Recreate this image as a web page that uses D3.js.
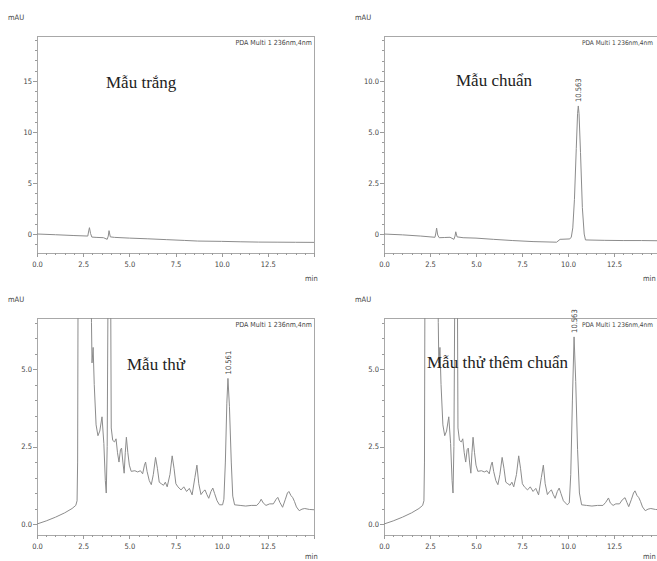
<!DOCTYPE html>
<html>
<head>
<meta charset="utf-8">
<script src="https://cdn.jsdelivr.net/npm/d3@7"></script>
<style>
  body { margin: 0; background: #fff; }
  svg { display: block; }
  .axis path, .axis line { stroke: #9a9a9a; shape-rendering: crispEdges; }
  .axis text { font-family: "DejaVu Sans Condensed", "Liberation Sans Narrow", sans-serif; font-stretch: condensed; font-size: 7.5px; fill: #444; }
  .small { font-family: "DejaVu Sans Condensed", "Liberation Sans Narrow", sans-serif; font-stretch: condensed; font-size: 7.5px; fill: #444; }
  .title { font-family: "Liberation Serif", "Times New Roman", serif; font-size: 17px; fill: #222; }
</style>
</head>
<body>
<svg id="chart" width="657" height="561"></svg>
<script>
// x axis (minutes)
var xTickValues = [0, 2.5, 5, 7.5, 10, 12.5, 15];
var xTickLabels = ["0.0", "2.5", "5.0", "7.5", "10.0", "12.5", ""];

// panel titles
var titles = ["Mẫu trắng", "Mẫu chuẩn", "Mẫu thử", "Mẫu thử thêm chuẩn"];
var detector = "PDA Multi 1 236nm,4nm";

// y ticks for each panel
var yTicksBlank = [0, 5, 10, 15];
var yLabelsBlank = ["0", "5", "10", "15"];
var yTicksStd = [0, 2.5, 5, 7.5];
var yLabelsStd = ["0", "2.5", "5.0", "10.0"];
var yTicksSample = [0, 2.5, 5];
var yLabelsSample = ["0.0", "2.5", "5.0"];

// peak labels
var peakStd = {t: 10.56, v: 6.28, label: "10.563"};
var peakSample = {t: 10.34, v: 4.7, label: "10.561"};
var peakSpiked = {t: 10.33, v: 6.04, label: "10.563"};

// traces (time, mAU)
var timeBlank = [0, 1, 2, 2.75, 2.8, 2.84, 2.9, 2.97, 3.2, 3.6, 3.8, 3.86, 3.9, 3.97, 4.2, 5, 6, 7, 8, 8.7, 10, 11, 12, 13, 14, 15];
var signalBlank = [0, -0.07, -0.15, -0.2, 0.3, 0.62, 0.05, -0.3, -0.33, -0.36, -0.52, -0.2, 0.33, -0.28, -0.33, -0.4, -0.47, -0.55, -0.63, -0.69, -0.72, -0.76, -0.79, -0.8, -0.81, -0.82];

var timeStd = [0, 1, 2, 2.77, 2.82, 2.86, 2.92, 3.0, 3.3, 3.59, 3.8, 3.86, 3.9, 3.97, 4.3, 5, 5.94, 7, 8.1, 9.38, 9.57, 10.1, 10.18, 10.26, 10.35, 10.45, 10.52, 10.56, 10.6, 10.68, 10.78, 10.88, 10.95, 12, 13, 14, 15];
var signalStd = [0, -0.04, -0.1, -0.16, 0.05, 0.29, -0.05, -0.18, -0.17, -0.16, -0.26, -0.1, 0.11, -0.14, -0.18, -0.2, -0.26, -0.32, -0.37, -0.4, -0.26, -0.24, -0.15, 0.3, 1.7, 4.2, 5.9, 6.28, 5.9, 4.0, 1.3, 0.0, -0.29, -0.31, -0.32, -0.32, -0.33];

var timeSample = [0, 0.5, 1.0, 1.5, 1.9, 2.1, 2.17, 2.2, 2.23, 2.9, 2.95, 2.98, 3.04, 3.1, 3.2, 3.3, 3.4, 3.52, 3.62, 3.7, 3.75, 3.8, 3.86, 3.98, 4.02, 4.1, 4.2, 4.28, 4.36, 4.44, 4.52, 4.58, 4.65, 4.72, 4.78, 4.84, 4.92, 5.0, 5.1, 5.3, 5.45, 5.6, 5.72, 5.82, 5.88, 5.96, 6.08, 6.19, 6.3, 6.42, 6.52, 6.62, 6.73, 6.85, 6.95, 7.05, 7.2, 7.32, 7.42, 7.52, 7.63, 7.8, 7.95, 8.1, 8.25, 8.4, 8.55, 8.66, 8.76, 8.88, 9.0, 9.1, 9.2, 9.3, 9.42, 9.52, 9.62, 9.75, 9.88, 10.05, 10.12, 10.2, 10.28, 10.34, 10.42, 10.52, 10.6, 10.7, 11.0, 11.3, 11.6, 11.9, 12.05, 12.14, 12.25, 12.4, 12.6, 12.8, 12.95, 13.04, 13.15, 13.3, 13.45, 13.56, 13.64, 13.75, 13.85, 13.94, 14.05, 14.2, 14.35, 14.5, 14.75, 15];
var signalSample = [0, 0.1, 0.22, 0.36, 0.5, 0.6, 0.75, 2.0, 9, 9, 6.5, 5.2, 5.7, 4.5, 3.2, 2.85, 3.0, 3.46, 2.6, 1.4, 1.0, 2.5, 9, 9, 3.1, 2.7, 2.65, 2.75, 2.3, 2.0, 2.4, 2.45, 2.0, 1.64, 2.3, 2.8, 2.3, 1.9, 1.7, 1.72, 1.68, 1.72, 1.62, 1.9, 2.0, 1.7, 1.4, 1.27, 1.6, 2.15, 1.8, 1.35, 1.3, 1.25, 1.35, 1.2, 1.6, 2.2, 1.8, 1.3, 1.2, 1.1, 1.2, 1.05, 1.15, 0.94, 1.5, 1.9, 1.3, 0.95, 1.05, 1.1, 0.95, 0.83, 1.05, 1.16, 0.98, 0.75, 0.62, 0.62, 0.8, 2.0, 3.9, 4.7, 3.8, 2.0, 0.9, 0.62, 0.6, 0.58, 0.6, 0.6, 0.7, 0.8, 0.68, 0.6, 0.65, 0.65, 0.8, 0.86, 0.7, 0.54, 0.8, 1.0, 1.05, 0.92, 0.85, 0.73, 0.55, 0.43, 0.48, 0.5, 0.47, 0.46];

var timeSpiked = [0, 0.5, 1.0, 1.5, 1.9, 2.1, 2.17, 2.2, 2.23, 2.9, 2.95, 2.98, 3.04, 3.1, 3.2, 3.3, 3.4, 3.52, 3.62, 3.7, 3.75, 3.8, 3.86, 3.98, 4.02, 4.1, 4.2, 4.28, 4.36, 4.44, 4.52, 4.58, 4.65, 4.72, 4.78, 4.84, 4.92, 5.0, 5.1, 5.3, 5.45, 5.6, 5.72, 5.82, 5.88, 5.96, 6.08, 6.19, 6.3, 6.42, 6.52, 6.62, 6.73, 6.85, 6.95, 7.05, 7.2, 7.32, 7.42, 7.52, 7.63, 7.8, 7.95, 8.1, 8.25, 8.4, 8.55, 8.66, 8.76, 8.88, 9.0, 9.1, 9.2, 9.3, 9.42, 9.52, 9.62, 9.75, 9.96, 10.07, 10.15, 10.24, 10.33, 10.42, 10.52, 10.62, 10.74, 11.0, 11.3, 11.6, 11.9, 12.05, 12.2, 12.3, 12.45, 12.6, 12.8, 12.95, 13.1, 13.2, 13.3, 13.45, 13.56, 13.64, 13.75, 13.85, 13.94, 14.05, 14.2, 14.35, 14.5, 14.75, 15];
var signalSpiked = [0, 0.1, 0.22, 0.36, 0.5, 0.6, 0.75, 2.0, 9, 9, 6.5, 5.2, 5.7, 4.5, 3.2, 2.85, 3.0, 3.46, 2.6, 1.4, 1.0, 2.5, 9, 9, 3.1, 2.7, 2.65, 2.75, 2.3, 2.0, 2.4, 2.45, 2.0, 1.64, 2.3, 2.8, 2.3, 1.9, 1.7, 1.72, 1.68, 1.72, 1.62, 1.9, 2.0, 1.7, 1.4, 1.27, 1.6, 2.15, 1.8, 1.35, 1.3, 1.25, 1.35, 1.2, 1.6, 2.2, 1.8, 1.3, 1.2, 1.1, 1.2, 1.05, 1.15, 0.94, 1.5, 1.9, 1.3, 0.95, 1.05, 1.1, 0.95, 0.83, 1.05, 1.16, 0.98, 0.75, 0.62, 0.68, 1.6, 4.0, 6.04, 4.6, 2.4, 1.0, 0.62, 0.6, 0.58, 0.6, 0.6, 0.7, 0.84, 0.68, 0.6, 0.65, 0.65, 0.78, 0.85, 0.7, 0.56, 0.8, 1.0, 1.07, 0.92, 0.85, 0.73, 0.55, 0.43, 0.48, 0.5, 0.47, 0.46];

var svg = d3.select("#chart");

var panels = [
  {left: 37, top: 36, right: 314, bottom: 253, yDomain: [-1.86, 19.4], yTicks: yTicksBlank, yLabels: yLabelsBlank, minorStep: 1,
   time: timeBlank, signal: signalBlank, title: titles[0], titleX: 106, titleY: 88, peak: null},
  {left: 384, top: 36, right: 660, bottom: 253, yDomain: [-0.93, 9.71], yTicks: yTicksStd, yLabels: yLabelsStd, minorStep: 0.5,
   time: timeStd, signal: signalStd, title: titles[1], titleX: 456, titleY: 86, peak: peakStd},
  {left: 37, top: 318, right: 314, bottom: 535, yDomain: [-0.355, 6.65], yTicks: yTicksSample, yLabels: yLabelsSample, minorStep: 0.5,
   time: timeSample, signal: signalSample, title: titles[2], titleX: 127, titleY: 370, peak: peakSample},
  {left: 384, top: 318, right: 660, bottom: 535, yDomain: [-0.355, 6.65], yTicks: yTicksSample, yLabels: yLabelsSample, minorStep: 0.5,
   time: timeSpiked, signal: signalSpiked, title: titles[3], titleX: 427, titleY: 368, peak: peakSpiked}
];

panels.forEach(function(p, i) { drawPanel(p, i) });

function drawPanel(p, i){
  var x = d3.scaleLinear().domain([0, 15]).range([p.left, p.right]);
  var y = d3.scaleLinear().domain(p.yDomain).range([p.bottom, p.top]);

  // frame
  svg.append("rect")
    .attr("x", p.left).attr("y", p.top)
    .attr("width", p.right - p.left).attr("height", p.bottom - p.top)
    .attr("fill", "none").attr("stroke", "#a8a8a8").attr("stroke-width", 1)
    .attr("shape-rendering", "crispEdges");

  // minor ticks
  svg.append("g").attr("class", "axis")
    .attr("transform", "translate(0," + p.bottom + ")")
    .call(d3.axisBottom(x).tickValues(d3.range(0, 15.01, 0.5)).tickSize(2).tickFormat(""))
    .select(".domain").remove();
  var yMin = Math.ceil(p.yDomain[0] / p.minorStep) * p.minorStep;
  svg.append("g").attr("class", "axis")
    .attr("transform", "translate(" + p.left + ",0)")
    .call(d3.axisLeft(y).tickValues(d3.range(yMin, p.yDomain[1], p.minorStep)).tickSize(2).tickFormat(""))
    .select(".domain").remove();

  // major ticks
  svg.append("g").attr("class", "axis")
    .attr("transform", "translate(0," + p.bottom + ")")
    .call(d3.axisBottom(x).tickValues(xTickValues).tickSize(4).tickPadding(5)
      .tickFormat(function(d, k) { return xTickLabels[k] }))
    .select(".domain").remove();
  svg.append("g").attr("class", "axis")
    .attr("transform", "translate(" + p.left + ",0)")
    .call(d3.axisLeft(y).tickValues(p.yTicks).tickSize(4).tickPadding(1)
      .tickFormat(function(d, k) { return p.yLabels[k] }))
    .select(".domain").remove();

  // axis units ("min" sits just inside the visible page)
  svg.append("text").attr("class", "small")
    .attr("x", p.left - 29).attr("y", p.top - 16).text("mAU");
  svg.append("text").attr("class", "small")
    .attr("x", Math.min(p.right, 652) - 9).attr("y", Math.min(p.bottom + 28, 559)).text("min");

  // trace
  var clipId = "clip" + i;
  svg.append("clipPath").attr("id", clipId)
    .append("rect").attr("x", p.left).attr("y", p.top)
    .attr("width", p.right - p.left).attr("height", p.bottom - p.top);

  var pts = p.time.map(function(t, k) { return [t, p.signal[k]] });
  var line = d3.line()
    .x(function(d) { return x(d[0]) })
    .y(function(d) { return y(d[1]) });

  svg.append("path")
    .datum(pts)
    .attr("clip-path", "url(#" + clipId + ")")
    .attr("d", line)
    .attr("fill", "none")
    .attr("stroke", "#8c8c8c")
    .attr("stroke-width", 1);

  // detector label, right-aligned inside the frame (or the page edge)
  var cut = p.right > 657;
  svg.append("text").attr("class", "small")
    .attr("x", cut ? 653 : p.right - 2)
    .attr("y", p.top + 9)
    .attr("text-anchor", "end")
    .style("font-size", cut ? "6.5px" : "7px")
    .text(detector);

  // title
  svg.append("text").attr("class", "title")
    .attr("x", p.titleX).attr("y", p.titleY).text(p.title);

  // peak retention time label
  if (p.peak) {
    var px = x(p.peak.t) + 3, py = y(p.peak.v) - 4;
    svg.append("text").attr("class", "small")
      .attr("transform", "translate(" + px + "," + py + ") rotate(-90)")
      .attr("fill", "#555")
      .text(p.peak.label);
  }
}
</script>
</body>
</html>
